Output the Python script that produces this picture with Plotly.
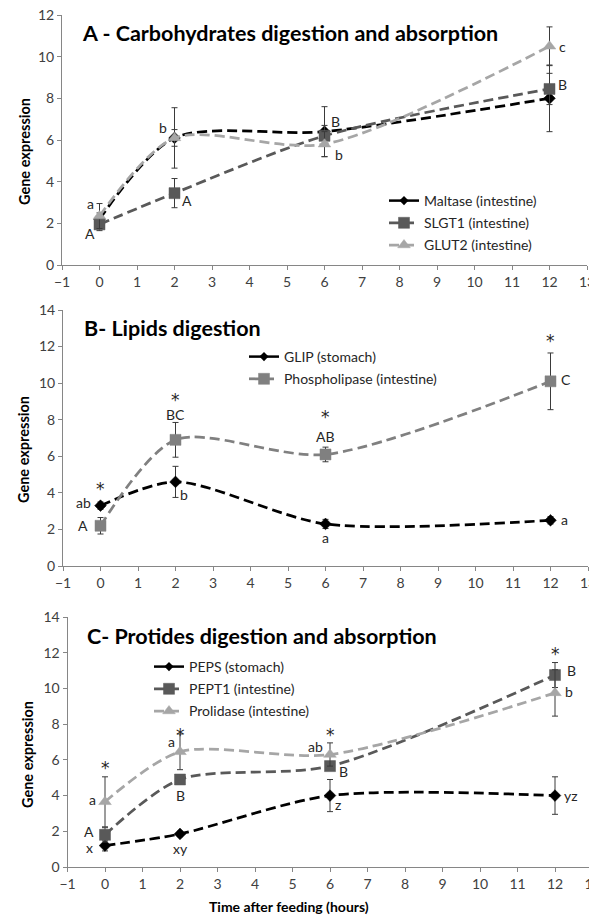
import plotly.graph_objects as go

# ---------------- data ----------------
time_h = [0, 2, 6, 12]

# Panel A - carbohydrates
maltase = [2.2, 6.1, 6.4, 8.0]
maltase_err = [0.3, 0.4, 1.2, 1.6]
slgt1 = [1.95, 3.45, 6.2, 8.45]
slgt1_err = [0.3, 0.7, 0.5, 0.75]
glut2 = [2.35, 6.1, 5.8, 10.5]
glut2_err = [0.6, 1.45, 0.6, 0.93]

# Panel B - lipids
glip = [3.3, 4.6, 2.3, 2.5]
glip_err = [0.2, 0.85, 0.25, 0.2]
phospholipase = [2.2, 6.9, 6.1, 10.1]
phospholipase_err = [0.45, 0.95, 0.4, 1.55]

# Panel C - protides
peps = [1.2, 1.85, 4.0, 4.0]
peps_err = [0.3, 0.15, 0.9, 1.05]
pept1 = [1.8, 4.9, 5.65, 10.75]
pept1_err = [0.4, 0.2, 0.2, 0.7]
prolidase = [3.65, 6.45, 6.3, 9.75]
prolidase_err = [1.4, 1.0, 0.65, 1.3]

panel_titles = ["A - Carbohydrates digestion and absorption",
                "B- Lipids digestion",
                "C- Protides digestion and absorption"]
y_title = "Gene expression"
x_title = "Time after feeding (hours)"

# significance labels: (series, point index, text)
labels_a = [("glut2", 0, "a"), ("slgt1", 0, "A"), ("glut2", 1, "b"), ("slgt1", 1, "A"),
            ("slgt1", 2, "B"), ("glut2", 2, "b"), ("glut2", 3, "c"), ("slgt1", 3, "B")]
labels_b = [("glip", 0, "*"), ("glip", 0, "ab"), ("phos", 0, "A"), ("phos", 1, "*"),
            ("phos", 1, "BC"), ("glip", 1, "b"), ("phos", 2, "*"), ("phos", 2, "AB"),
            ("glip", 2, "a"), ("phos", 3, "*"), ("phos", 3, "C"), ("glip", 3, "a")]
labels_c = [("prol", 0, "*"), ("prol", 0, "a"), ("pept1", 0, "A"), ("peps", 0, "x"),
            ("prol", 1, "*"), ("prol", 1, "a"), ("pept1", 1, "B"), ("peps", 1, "xy"),
            ("prol", 2, "*"), ("prol", 2, "ab"), ("pept1", 2, "B"), ("peps", 2, "z"),
            ("pept1", 3, "*"), ("pept1", 3, "B"), ("prol", 3, "b"), ("peps", 3, "yz")]

# ---------------- styling / layout ----------------
OFF = 8                      # default page body margin
W, H = 597 - OFF, 917 - OFF  # figure fills the rest of the window
FONT = "Lato, 'Open Sans', sans-serif"
STAR_FONT = "'DejaVu Sans', sans-serif"
TXT = "#262626"
AXC = "#868686"
BLACK, DARK, MID, LIGHT = "#000000", "#595959", "#808080", "#A6A6A6"
DASH = "10px,5px"

label_shift = {
    "A": [(-9, 13), (-10, -9), (-12, 10), (12, -7), (11, 14), (14, -10), (13, 0), (13, 4)],
    "B": [(0, 17), (-17, 3), (-18, 0), (0, 40), (0, 25), (8, -13), (0, 37), (0, 18),
          (0, -14), (0, 40), (15, 2), (14, 1)],
    "C": [(0, 34), (-13, 2), (-16, 3), (-16, -2), (0, 17), (-9, 10), (0, -16), (0, -15),
          (0, 20), (-15, 8), (13, -5), (8, -9), (0, 21), (16, 5), (14, 1), (16, 0)],
}

# panel pixel boxes in window coordinates: (left, right, top, bottom)
boxes = [(62, 587, 15, 265), (63, 588, 310, 566), (67.5, 592.5, 617, 867)]


def px2x(p):
    return (p - OFF) / W


def px2y(p):
    return 1 - (p - OFF) / H


fig = go.Figure()


def add_series(name, x, y, err, color, symbol, size, ax, legend, solid_legend=False):
    xa = "x" if ax == 1 else f"x{ax}"
    ya = "y" if ax == 1 else f"y{ax}"
    fig.add_trace(go.Scatter(
        x=x, y=y, mode="lines+markers", name=name,
        xaxis=xa, yaxis=ya, legend=legend, legendgroup=name,
        showlegend=not solid_legend,
        line=dict(color=color, width=2.75, dash=DASH, shape="spline", smoothing=0.8),
        marker=dict(symbol=symbol, size=size, color=color,
                    line=dict(color=color, width=0.5)),
        error_y=dict(type="data", array=err, visible=True, color="#3a3a3a",
                     thickness=1, width=3),
    ))
    if solid_legend:
        fig.add_trace(go.Scatter(
            x=[None], y=[None], mode="lines+markers", name=name,
            xaxis=xa, yaxis=ya, legend=legend, legendgroup=name,
            line=dict(color=color, width=2.5),
            marker=dict(symbol=symbol, size=size - 2, color=color),
        ))


# Panel A
add_series("Maltase (intestine)", time_h, maltase, maltase_err, BLACK, "diamond", 9, 1, "legend", True)
add_series("SLGT1 (intestine)", time_h, slgt1, slgt1_err, DARK, "square", 11, 1, "legend")
add_series("GLUT2 (intestine)", time_h, glut2, glut2_err, LIGHT, "triangle-up", 11, 1, "legend")
# Panel B
add_series("GLIP (stomach)", time_h, glip, glip_err, BLACK, "diamond", 9, 2, "legend2", True)
add_series("Phospholipase (intestine)", time_h, phospholipase, phospholipase_err, MID, "square", 11, 2, "legend2")
# Panel C
add_series("PEPS (stomach)", time_h, peps, peps_err, BLACK, "diamond", 9, 3, "legend3", True)
add_series("PEPT1 (intestine)", time_h, pept1, pept1_err, DARK, "square", 11, 3, "legend3")
add_series("Prolidase (intestine)", time_h, prolidase, prolidase_err, LIGHT, "triangle-up", 11, 3, "legend3")

axis_common = dict(showgrid=False, zeroline=False, showline=True, linecolor=AXC, linewidth=1,
                   ticks="outside", ticklen=4, tickcolor=AXC, automargin=False,
                   ticklabeloverflow="allow",
                   tickfont=dict(family=FONT, size=14, color="#404040"))

yranges = [[0, 12], [0, 14], [0, 14]]
layout_axes = {}
for i, (l, r, t, b) in enumerate(boxes, start=1):
    xk = "xaxis" if i == 1 else f"xaxis{i}"
    yk = "yaxis" if i == 1 else f"yaxis{i}"
    ya = "y" if i == 1 else f"y{i}"
    xa = "x" if i == 1 else f"x{i}"
    layout_axes[xk] = dict(axis_common, domain=[px2x(l), px2x(r)], range=[-1, 13],
                           tick0=-1, dtick=1, anchor=ya)
    layout_axes[yk] = dict(axis_common, domain=[px2y(b), px2y(t)], range=yranges[i - 1],
                           tick0=0, dtick=2, anchor=xa)

legend_common = dict(bgcolor="rgba(0,0,0,0)", font=dict(family=FONT, size=14, color=TXT),
                     xanchor="left", yanchor="top", traceorder="grouped",
                     tracegroupgap=1, itemwidth=30)
fig.update_layout(
    width=W, height=H,
    margin=dict(l=0, r=0, t=0, b=0, autoexpand=False),
    paper_bgcolor="white", plot_bgcolor="white",
    showlegend=True,
    legend=dict(legend_common, x=px2x(384), y=px2y(185)),
    legend2=dict(legend_common, x=px2x(244), y=px2y(341)),
    legend3=dict(legend_common, x=px2x(149), y=px2y(651)),
    **layout_axes,
)

annotations = []
# panel titles
title_pos = [(80, 33), (82, 328), (85, 636)]
for txt, (tx, ty) in zip(panel_titles, title_pos):
    annotations.append(dict(text=f"<b>{txt}</b>", x=px2x(tx), y=px2y(ty), xref="paper", yref="paper",
                            xanchor="left", yanchor="middle", showarrow=False,
                            font=dict(family=FONT, size=21.5, color="#000000")))
# y titles
ytitle_pos = [(24, 152), (24, 450), (27, 755)]
for (tx, ty) in ytitle_pos:
    annotations.append(dict(text=f"<b>{y_title}</b>", x=px2x(tx), y=px2y(ty), xref="paper", yref="paper",
                            xanchor="center", yanchor="middle", showarrow=False, textangle=-90,
                            font=dict(family=FONT, size=14.5, color="#000000")))
# x title
annotations.append(dict(text=f"<b>{x_title}</b>", x=px2x(289), y=px2y(906), xref="paper", yref="paper",
                        xanchor="center", yanchor="middle", showarrow=False,
                        font=dict(family=FONT, size=14, color="#000000")))

series_lookup = {
    "A": {"glut2": glut2, "slgt1": slgt1, "maltase": maltase},
    "B": {"glip": glip, "phos": phospholipase},
    "C": {"peps": peps, "pept1": pept1, "prol": prolidase},
}
for panel, labels, ax in (("A", labels_a, 1), ("B", labels_b, 2), ("C", labels_c, 3)):
    xr = "x" if ax == 1 else f"x{ax}"
    yr = "y" if ax == 1 else f"y{ax}"
    for (ser, idx, txt), (dx, dy) in zip(labels, label_shift[panel]):
        star = txt == "*"
        annotations.append(dict(text=txt, x=time_h[idx], y=series_lookup[panel][ser][idx],
                                xref=xr, yref=yr, xshift=dx, yshift=dy, showarrow=False,
                                xanchor="center", yanchor="middle",
                                font=dict(family=STAR_FONT if star else FONT,
                                          size=17 if star else 14, color=TXT)))

fig.update_layout(annotations=annotations)
fig.write_html("out.html")
